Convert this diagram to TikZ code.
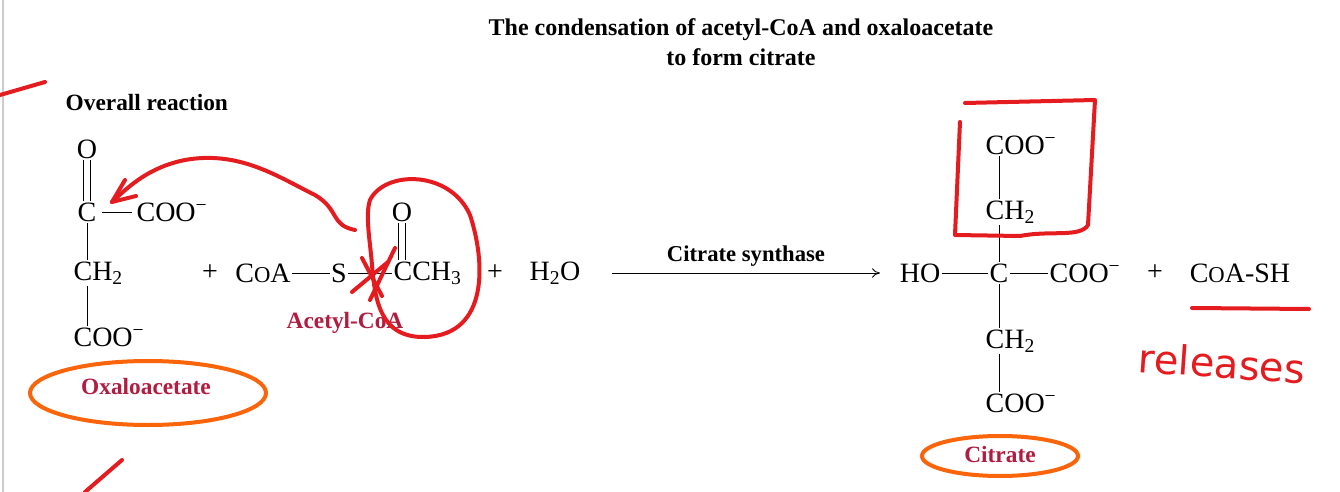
\documentclass[tikz,border=0pt]{standalone}
\usepackage{fontspec}
\setmainfont{Liberation Serif}
\newfontfamily\handfont{DejaVu Sans}
\usetikzlibrary{arrows.meta}
\definecolor{crim}{RGB}{178,28,64}
\definecolor{pen}{RGB}{228,28,32}
\definecolor{orng}{RGB}{250,100,10}
\newcommand{\sbt}[1]{\textsubscript{#1}}
\newcommand{\chg}{\textsuperscript{−}}
\begin{document}
\begin{tikzpicture}[x=0.75pt,y=-0.75pt,
  chem/.style={font=\fontsize{21}{24}\selectfont,inner sep=1pt},
  lab/.style={font=\bfseries\fontsize{17.5}{20}\selectfont,text=crim,inner sep=1pt},
  ttl/.style={font=\bfseries\fontsize{18}{22.5}\selectfont,align=center,inner sep=1pt},
  bond/.style={line width=0.6pt},
  pen/.style={draw=pen,line width=3pt,line cap=round,line join=round},
  orng/.style={draw=orng,line width=3pt}]
\useasboundingbox (0,0) rectangle (1340,492);
\fill[white] (0,0) rectangle (1340,492);
\draw[gray!40,line width=1pt] (3,0) -- (3,492);
\node[ttl] (title) at (741,42) {The condensation of acetyl-CoA and oxaloacetate\\to form citrate};
\node[font=\bfseries\fontsize{17.5}{20}\selectfont,anchor=west] (overall) at (61,103) {Overall reaction};
% oxaloacetate
\node[chem] (oO) at (87,149) {O};
\node[chem] (oC) at (87,212) {C};
\node[chem,anchor=west] (oCOO) at (135,212) {COO\chg};
\node[chem,anchor=west] (oCH) at (72,273) {CH\sbt{2}};
\node[chem,anchor=west] (oCOO2) at (72,337) {COO\chg};
\node[lab] (oxlab) at (146,387) {Oxaloacetate};
\draw[bond] ([xshift=-2.5pt]oO.south) -- ([xshift=-2.5pt]oC.north);
\draw[bond] ([xshift=2.5pt]oO.south) -- ([xshift=2.5pt]oC.north);
\draw[bond] ([xshift=3pt]oC.east) -- ([xshift=-2pt]oCOO.west);
\draw[bond] (oC.south) -- (oC.south |- oCH.north);
\draw[bond] (oC.south |- oCH.south) -- (oC.south |- oCOO2.north);
% acetyl-CoA
\node[chem] (p1) at (210,273) {+};
\node[chem] (coa) at (263,273) {C{\fontsize{17}{20}\selectfont O}A};
\node[chem] (S) at (339,273) {S};
\node[chem] (aO) at (402,212) {O};
\node[chem,anchor=west] (aC) at (392,273) {CCH\sbt{3}};
\node[lab] (aclab) at (345,323) {Acetyl-CoA};
\draw[bond] (coa.east) -- (S.west);
\draw[bond] (S.east) -- (aC.west);
\draw[bond] ([xshift=-2.5pt]aO.south) -- ([xshift=-2.5pt]aO.south |- aC.north);
\draw[bond] ([xshift=2.5pt]aO.south) -- ([xshift=2.5pt]aO.south |- aC.north);
\node[chem] (p2) at (495,273) {+};
\node[chem] (water) at (555,273) {H\sbt{2}O};
% arrow
\coordinate (arrS) at (612,273);
\coordinate (arrE) at (880,273);
\draw[bond,-{To[length=6pt,width=7pt]}] (arrS) -- (arrE);
\node[font=\bfseries\fontsize{17}{20}\selectfont] (enz) at (746,256) {Citrate synthase};
% citrate
\node[chem] (HO) at (920,273) {HO};
\node[chem] (cC) at (999,273) {C};
\node[chem,anchor=west] (cCOOr) at (1048,273) {COO\chg};
\node[chem] (p3) at (1155,273) {+};
\node[chem] (coash) at (1240,273) {C{\fontsize{17}{20}\selectfont O}A-SH};
\node[chem,anchor=west] (tCOO) at (984,145) {COO\chg};
\node[chem,anchor=west] (tCH) at (984,212) {CH\sbt{2}};
\node[chem,anchor=west] (bCH) at (984,341) {CH\sbt{2}};
\node[chem,anchor=west] (bCOO) at (984,403) {COO\chg};
\node[lab] (citlab) at (1000,455) {Citrate};
\draw[bond] (HO.east) -- (cC.west);
\draw[bond] (cC.east) -- (cCOOr.west);
\draw[bond] (cC.north |- tCOO.south) -- (cC.north |- tCH.north);
\draw[bond] (cC.north |- tCH.south) -- (cC.north);
\draw[bond] (cC.south) -- (cC.south |- bCH.north);
\draw[bond] (cC.south |- bCH.south) -- (cC.south |- bCOO.north);
% annotations
\draw[pen] (0,95) -- (45,82);
\draw[pen] (85,492) -- (122,460);
\draw[pen] (355,230) .. controls (330,225) and (340,210) .. (315,195) .. controls (280,178) and (240,150) .. (185,160) .. controls (150,167) and (130,185) .. (112,202);
\draw[pen] (112,202) -- (136,196);
\draw[pen] (112,202) -- (125,180);
\draw[pen] (362,258) -- (382,296);
\draw[pen] (370,300) -- (395,248);
\draw[pen] (352,292) -- (388,262);
\draw[pen] (370,200) .. controls (385,170) and (450,170) .. (470,215) .. controls (485,260) and (490,335) .. (425,337) .. controls (380,338) and (375,300) .. (372,265) .. controls (370,240) and (365,215) .. (370,200);
\draw[pen] (965,103) -- (1095,100) -- (1088,225) .. controls (1080,238) and (1050,230) .. (1020,236) -- (955,235) -- (960,122);
\draw[pen] (1192,308) -- (1309,309);
\node[font=\handfont\fontsize{30}{34}\selectfont,text=pen,rotate=-4] (rel) at (1222,363) {releases};
\draw[orng] (148,393) ellipse (118 and 32);
\draw[orng] (1000,456) ellipse (78 and 20);
\end{tikzpicture}
\end{document}
